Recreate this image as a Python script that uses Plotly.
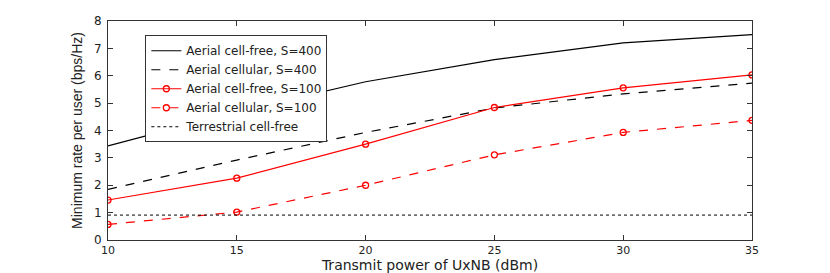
import plotly.graph_objects as go

power = [10, 15, 20, 25, 30, 35]
cf_400 = [3.44, 4.68, 5.78, 6.59, 7.20, 7.50]
cell_400 = [1.85, 2.92, 3.93, 4.82, 5.34, 5.73]
cf_100 = [1.46, 2.26, 3.50, 4.84, 5.56, 6.03]
cell_100 = [0.57, 1.02, 2.00, 3.11, 3.93, 4.37]
terr = [0.91, 0.91, 0.91, 0.91, 0.91, 0.91]

names = ["Aerial cell-free, S=400", "Aerial cellular, S=400",
         "Aerial cell-free, S=100", "Aerial cellular, S=100",
         "Terrestrial cell-free"]

fig = go.Figure()
fig.add_trace(go.Scatter(x=power, y=cf_400, mode="lines", name=names[0],
                         line=dict(color="black", width=1.2)))
fig.add_trace(go.Scatter(x=power, y=cell_400, mode="lines", name=names[1],
                         line=dict(color="black", width=1.2, dash="dash")))
fig.add_trace(go.Scatter(x=power, y=cf_100, mode="lines+markers", name=names[2],
                         line=dict(color="red", width=1.2),
                         marker=dict(symbol="circle-open", size=6, color="red", line=dict(width=1.3))))
fig.add_trace(go.Scatter(x=power, y=cell_100, mode="lines+markers", name=names[3],
                         line=dict(color="red", width=1.2, dash="dash"),
                         marker=dict(symbol="circle-open", size=6, color="red", line=dict(width=1.3))))
fig.add_trace(go.Scatter(x=power, y=terr, mode="lines", name=names[4],
                         line=dict(color="black", width=1, dash="dot")))

fig.update_layout(
    width=830, height=273,
    margin=dict(l=108, r=78, t=21, b=33),
    paper_bgcolor="white", plot_bgcolor="white",
    font=dict(family="DejaVu Sans, sans-serif", size=12, color="#222"),
    showlegend=True,
    legend=dict(x=0.058, y=0.935, xanchor="left", yanchor="top",
                bgcolor="white", bordercolor="#333", borderwidth=1,
                font=dict(size=12), tracegroupgap=0, itemwidth=30,
                traceorder="normal"),
    xaxis=dict(range=[10, 35], tickvals=[10, 15, 20, 25, 30, 35],
               showgrid=False, zeroline=False, showline=True, mirror="ticks",
               linecolor="#333", linewidth=1, ticks="inside", ticklen=5,
               tickcolor="#333", automargin=False, ticklabelstandoff=0,
               tickfont=dict(size=11),
               title=dict(text="Transmit power of UxNB (dBm)", standoff=3,
                          font=dict(size=14))),
    yaxis=dict(range=[0, 8], tickvals=list(range(9)),
               showgrid=False, zeroline=False, showline=True, mirror="ticks",
               linecolor="#333", linewidth=1, ticks="inside", ticklen=5,
               tickcolor="#333", automargin=False, ticklabelstandoff=3,
               tickfont=dict(size=12),
               title=dict(text="Minimum rate per user (bps/Hz)", standoff=8,
                          font=dict(size=14, family="Liberation Sans Narrow, Arial Narrow, sans-serif"))),
)

fig.write_html("out.html", config={"displayModeBar": False},
               post_script="document.body.style.margin='0';document.body.style.overflow='hidden';")
